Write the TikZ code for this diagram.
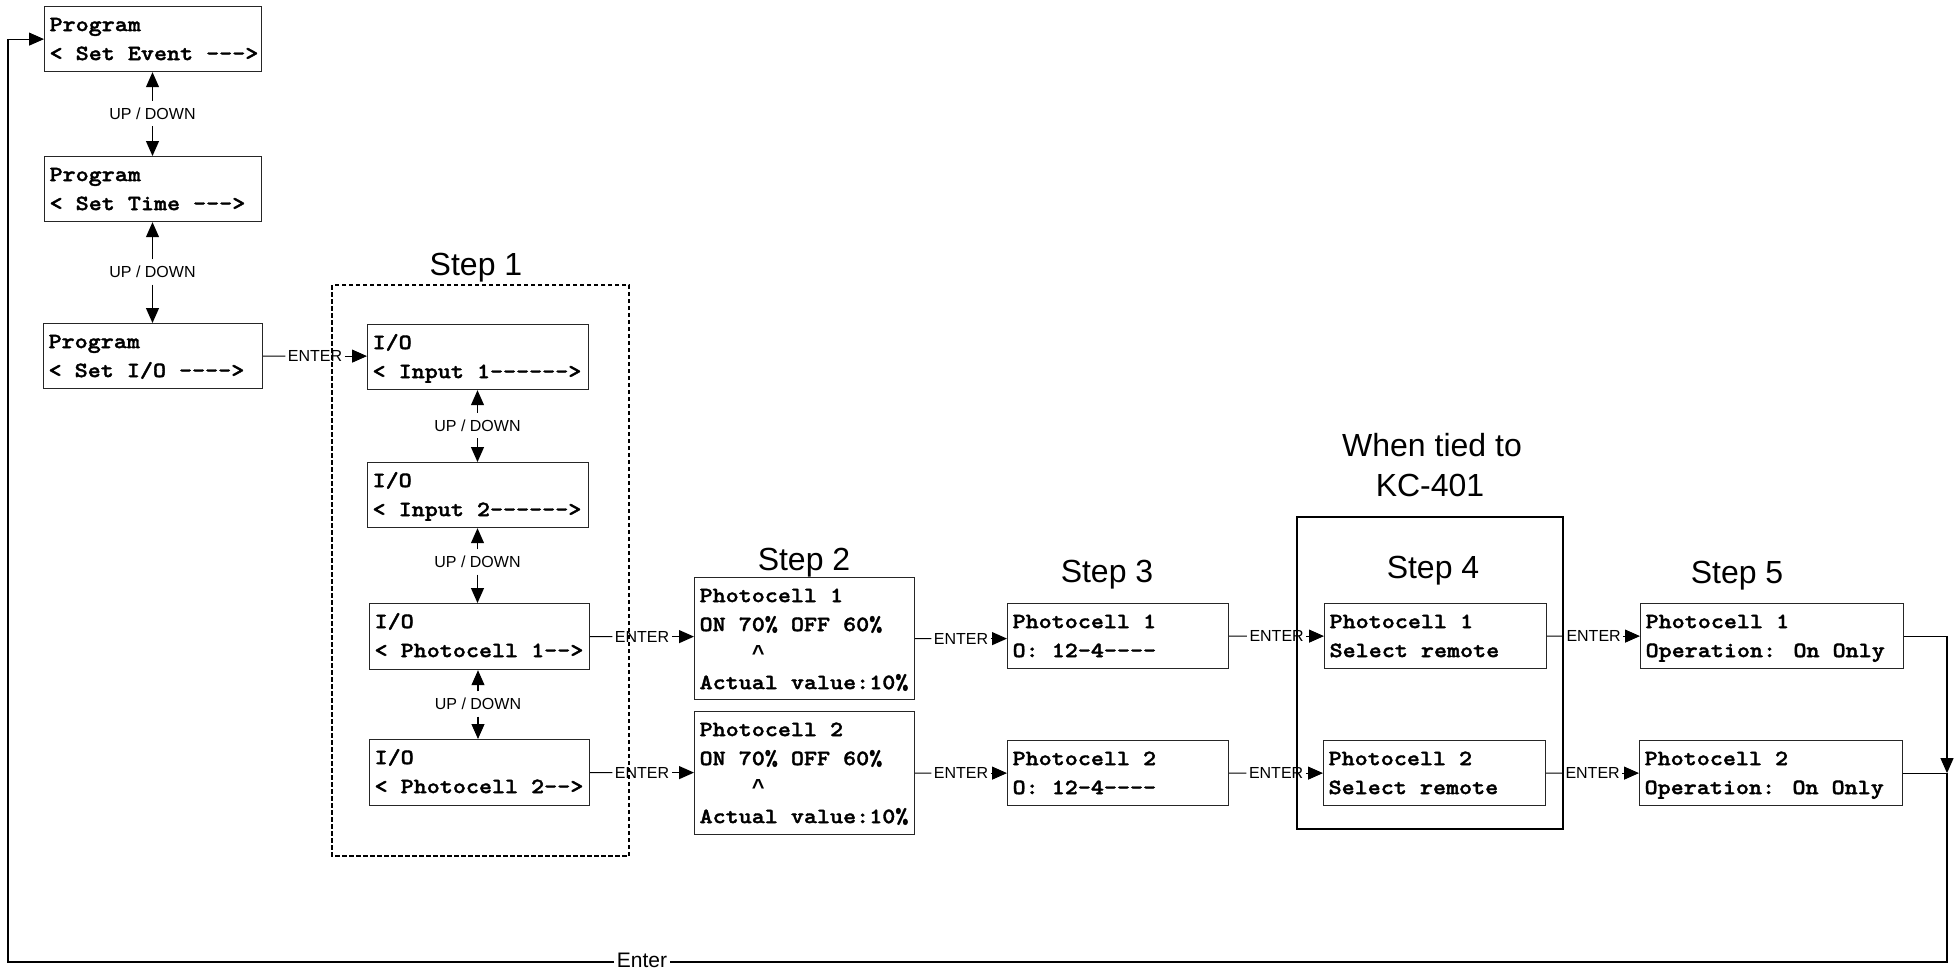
\documentclass[tikz,border=0pt]{standalone}
\usepackage{fontspec}
\usetikzlibrary{arrows.meta,calc}
\setmainfont{Liberation Sans}
% bold slab typewriter face for the display screens
\newfontfamily\lcdfont{lmmonolt10-bold.otf}[FakeStretch=1.14, FakeBold=1.6]
\newfontfamily\caretfont{Liberation Mono Bold}
% a hyphen that never joins its neighbours into a dash ligature
\newcommand\hy{-\kern0pt}
\newcommand\caret{{\caretfont\fontsize{21.8}{29}\selectfont\^{}}}
% screen text: width, height, lines (first baseline fixed, 29pt line pitch)
\newcommand\screen[3]{\parbox[c][#2][t]{#1}{\raggedright\setlength\parindent{0pt}\setlength\leftskip{5pt}
  \lcdfont\fontsize{21.8}{29}\selectfont\rule{0pt}{24.5pt}#3}}
\tikzset{
  screenbox/.style={draw=black!85, line width=1.2pt, rectangle, inner sep=0pt, anchor=north west},
  conn/.style={line width=1.1pt},
  arr/.style={conn, -{Triangle[length=15pt,width=13pt]}},
  keylbl/.style={font=\fontsize{16}{18}\selectfont, inner xsep=2.5pt, inner ysep=6.5pt},
  steplbl/.style={font=\fontsize{32}{36}\selectfont, anchor=base, inner sep=0pt},
  frame/.style={line width=1.1pt, dash pattern=on 4.5pt off 2.5pt},
}
\begin{document}
\begin{tikzpicture}[x=1pt,y=-1pt]
\useasboundingbox (0,0) rectangle (1957,969);

% main program menu
\node[screenbox] (setevent) at (44,6)   {\screen{217pt}{65pt}{Program\\< Set Event \hy\hy\hy>}};
\node[screenbox] (settime)  at (44,156) {\screen{217pt}{65pt}{Program\\< Set Time \hy\hy\hy>}};
\node[screenbox] (setio)    at (43,323) {\screen{219pt}{65pt}{Program\\< Set I/O \hy\hy\hy\hy>}};

% step 1: I/O selection
\draw[frame] (332,285) rectangle (629,856);
\node[steplbl] (st1) at (476,275) {Step 1};
\node[screenbox] (in1) at (367,324) {\screen{221pt}{65pt}{I/O\\< Input 1\hy\hy\hy\hy\hy\hy>}};
\node[screenbox] (in2) at (367,462) {\screen{221pt}{65pt}{I/O\\< Input 2\hy\hy\hy\hy\hy\hy>}};
\node[screenbox] (pc1) at (369,603) {\screen{220pt}{66pt}{I/O\\< Photocell 1\hy\hy>}};
\node[screenbox] (pc2) at (369,739) {\screen{220pt}{66pt}{I/O\\< Photocell 2\hy\hy>}};

% step 2: thresholds
\node[steplbl] (st2) at (804,570) {Step 2};
\node[screenbox] (s2a) at (694,577) {\screen{220pt}{122pt}{Photocell 1\\ON 70\% OFF 60\%\\\phantom{ON 7}\caret\\Actual value:10\%}};
\node[screenbox] (s2b) at (694,711) {\screen{220pt}{123pt}{Photocell 2\\ON 70\% OFF 60\%\\\phantom{ON 7}\caret\\Actual value:10\%}};

% step 3: outputs
\node[steplbl] (st3) at (1107,582) {Step 3};
\node[screenbox] (s3a) at (1007,603) {\screen{221pt}{65pt}{Photocell 1\\O: 12\hy4\hy\hy\hy\hy}};
\node[screenbox] (s3b) at (1007,740) {\screen{221pt}{65pt}{Photocell 2\\O: 12\hy4\hy\hy\hy\hy}};

% step 4: remote selection (only with KC-401)
\node[steplbl] (tied1) at (1432,456) {When tied to};
\node[steplbl] (tied2) at (1430,496) {KC-401};
\draw[line width=2pt] (1297,517) rectangle (1563,829);
\node[steplbl] (st4) at (1433,578) {Step 4};
\node[screenbox] (s4a) at (1324,603) {\screen{222pt}{65pt}{Photocell 1\\Select remote}};
\node[screenbox] (s4b) at (1323,740) {\screen{222pt}{65pt}{Photocell 2\\Select remote}};

% step 5: operation mode
\node[steplbl] (st5) at (1737,583) {Step 5};
\node[screenbox] (s5a) at (1640,603) {\screen{263pt}{65pt}{Photocell 1\\Operation: On Only}};
\node[screenbox] (s5b) at (1639,740) {\screen{263pt}{65pt}{Photocell 2\\Operation: On Only}};

% UP / DOWN links
\node[keylbl] (u1) at (152.5,113.5) {UP / DOWN};
\node[keylbl] (u2) at (152.5,272)   {UP / DOWN};
\node[keylbl] (u3) at (477.5,425.5) {UP / DOWN};
\node[keylbl] (u4) at (477.5,562)   {UP / DOWN};
\node[keylbl] (u5) at (478,704)     {UP / DOWN};
\draw[arr] (u1) -- (u1 |- setevent.south);
\draw[arr] (u1) -- (u1 |- settime.north);
\draw[arr] (u2) -- (u2 |- settime.south);
\draw[arr] (u2) -- (u2 |- setio.north);
\draw[arr] (u3) -- (u3 |- in1.south);
\draw[arr] (u3) -- (u3 |- in2.north);
\draw[arr] (u4) -- (u4 |- in2.south);
\draw[arr] (u4) -- (u4 |- pc1.north);
\draw[arr] (u5) -- (u5 |- pc1.south);
\draw[arr] (u5) -- (u5 |- pc2.north);

% ENTER links
\foreach \a/\b/\lbl in {setio/in1/e1, pc1/s2a/e2, pc2/s2b/e3, s2a/s3a/e4, s2b/s3b/e5, s3a/s4a/e6, s3b/s4b/e7, s4a/s5a/e8, s4b/s5b/e9}{
  \path ($(\a.east)!0.5!(\a.east -| \b.west)$) node[keylbl] (\lbl) {ENTER};
  \draw[conn] (\a.east) -- (\lbl.west);
  \draw[arr] (\lbl.east) -- (\lbl.east -| \b.west);
}

% return path to the top of the menu
\coordinate (rx) at (1947,0);
\coordinate (br) at (1947,962);
\coordinate (bl) at (8,962);
\node[font=\fontsize{21}{24}\selectfont, inner xsep=2.5pt, inner ysep=0pt] (ent) at (642,960) {Enter};
\draw[arr] (s5a.east) -- (s5a.east -| rx) -- (rx |- s5b.east);
\draw[conn] (s5b.east) -- (s5b.east -| rx) -- (br) -- (ent.east |- br);
\draw[arr] (ent.west |- bl) -- (bl) -- (bl |- setevent.west) -- (setevent.west);
\end{tikzpicture}
\end{document}
